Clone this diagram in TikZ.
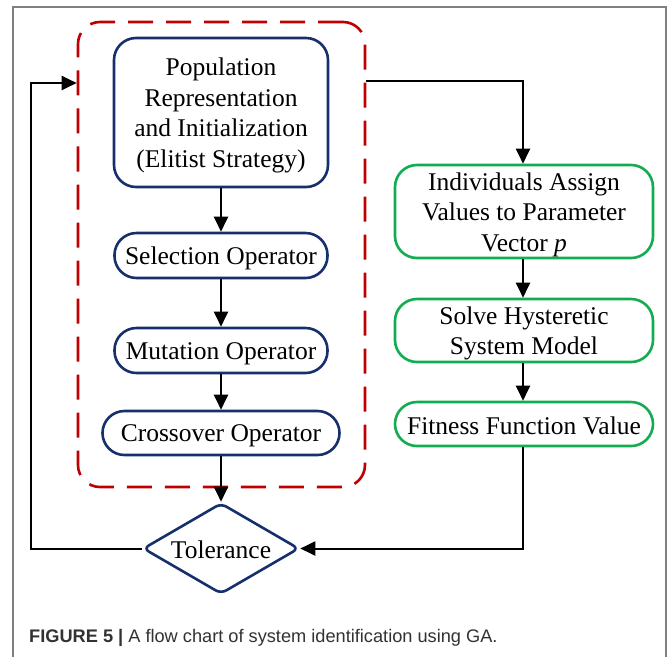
\documentclass[tikz,border=0pt]{standalone}
\usepackage{fontspec}
\setmainfont{Liberation Serif}
\newfontfamily\capfont{Liberation Sans}
\usetikzlibrary{arrows.meta,shapes.geometric}

\definecolor{navy}{RGB}{22,48,110}
\definecolor{gagreen}{RGB}{20,172,80}
\definecolor{gared}{RGB}{192,0,0}
\definecolor{framegray}{RGB}{128,128,128}
\definecolor{captext}{RGB}{50,50,50}

\tikzset{
  bluebox/.style={draw=navy, line width=2.6pt, rounded corners=22pt, inner sep=0pt},
  greenbox/.style={draw=gagreen, line width=2.6pt, rounded corners=22pt, inner sep=0pt},
  boxtext/.style={inner sep=0pt, align=center, font=\fontsize{25.5}{30.5}\selectfont},
  gagroup/.style={draw=gared, line width=2.6pt, dash pattern=on 25pt off 13pt,
    rounded corners=22pt, inner sep=0pt},
  decision/.style={draw=navy, line width=2.6pt, shape=diamond, aspect=1.7, inner sep=0pt,
    rounded corners=6pt},
  flow/.style={line width=2pt, -{Triangle[length=15pt,width=14pt]}}
}

\begin{document}
\begin{tikzpicture}[x=1pt,y=-1pt]
\useasboundingbox (0,0) rectangle (672,657);
\fill[white] (0,0) rectangle (672,657);

% outer frame, open at the bottom
\draw[framegray, line width=1.6pt] (13,657) -- (13,7) -- (666,7) -- (666,657);

% genetic algorithm group
\node[gagroup, minimum width=287pt, minimum height=465pt] (ga) at (221.5,254.5) {};

% operator boxes (frame, then its text set slightly low)
\node[bluebox, minimum width=214pt, minimum height=149pt] (pop) at (221,112.5) {};
\node[boxtext] (popt) at ([yshift=-3pt]pop.center)
  {Population\\Representation\\and Initialization\\(Elitist Strategy)};
\node[bluebox, minimum width=213pt, minimum height=45pt] (sel) at (221,255.5) {};
\node[boxtext] (selt) at ([yshift=-3pt]sel.center) {Selection Operator};
\node[bluebox, minimum width=213pt, minimum height=45pt] (mut) at (221,350.5) {};
\node[boxtext] (mutt) at ([yshift=-3pt]mut.center) {Mutation Operator};
\node[bluebox, minimum width=237pt, minimum height=44pt] (cro) at (221,433) {};
\node[boxtext] (crot) at ([yshift=-3pt]cro.center) {Crossover Operator};

\node[decision, minimum width=156pt, minimum height=91pt] (tol) at (221,548.5) {};
\node[boxtext] (tolt) at ([yshift=-1.5pt]tol.center) {Tolerance};

% model evaluation chain
\node[greenbox, minimum width=258pt, minimum height=93pt] (ind) at (524,211.5) {};
\node[boxtext] (indt) at ([yshift=-3pt]ind.center)
  {Individuals Assign\\Values to Parameter\\Vector \textit{p}};
\node[greenbox, minimum width=258pt, minimum height=63pt] (sol) at (524,330.5) {};
\node[boxtext] (solt) at ([yshift=-3pt]sol.center) {Solve Hysteretic\\System Model};
\node[greenbox, minimum width=258pt, minimum height=44pt] (fit) at (524,424) {};
\node[boxtext] (fitt) at ([yshift=-2pt]fit.center) {Fitness Function Value};

\coordinate (fb) at (31,83);
\coordinate (tr) at (523,81);

\draw[flow] (pop.south) -- (sel.north);
\draw[flow] (sel.south) -- (mut.north);
\draw[flow] (mut.south) -- (cro.north);
\draw[flow] (cro.south) -- (tol.north);

\draw[flow] (ga.east |- tr) -- (tr) -- (tr |- ind.north);
\draw[flow] (ind.south -| tr) -- (sol.north -| tr);
\draw[flow] (sol.south -| tr) -- (fit.north -| tr);
\draw[flow] (fit.south -| tr) |- (tol.east);
\draw[flow] (tol.west) -| (fb) -- (fb -| ga.west);

% caption
\node[anchor=base west, inner sep=0pt, text=captext, font=\capfont\fontsize{18.2}{20}\selectfont]
  (cap) at (29,642) {\textbf{FIGURE 5 |} A flow chart of system identification using GA.};
\end{tikzpicture}
\end{document}
